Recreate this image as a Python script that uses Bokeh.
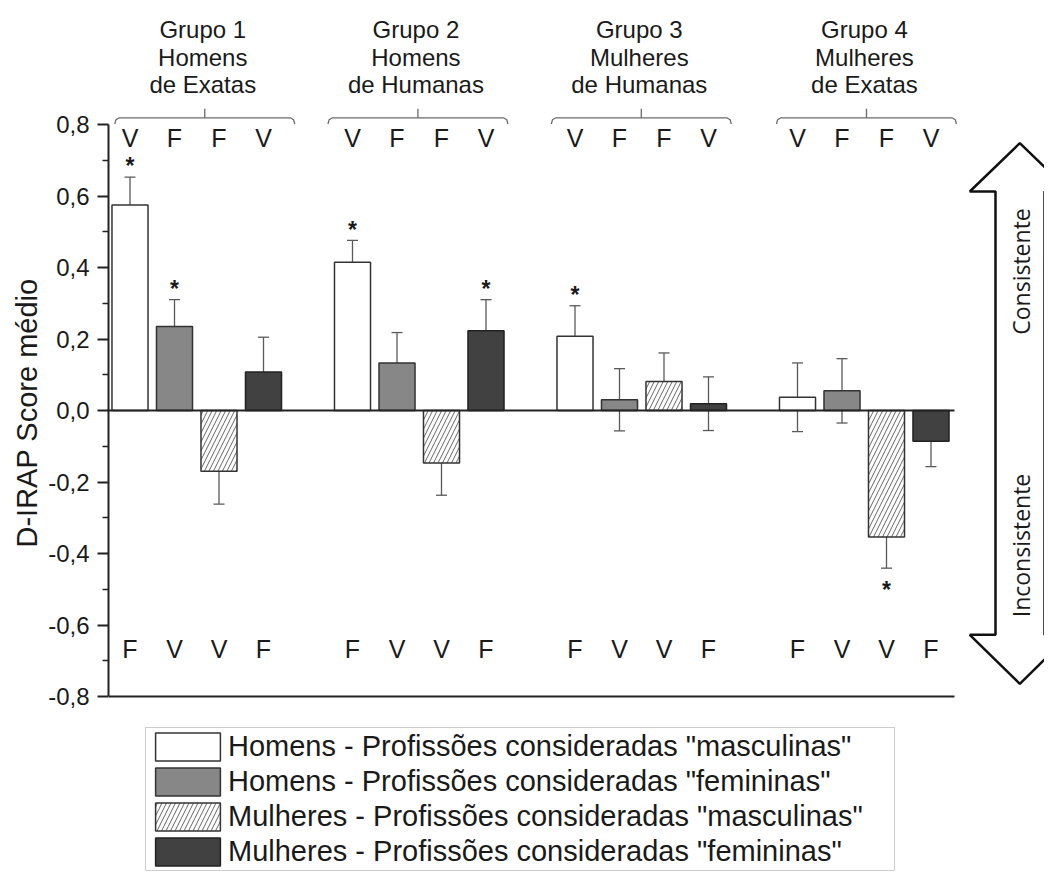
import math
from bokeh.plotting import figure
from bokeh.models import (ColumnDataSource, Range1d, FixedTicker, Whisker, TeeHead,
                          Legend, LegendItem, Title)
from bokeh.core.properties import value
from bokeh.embed import file_html
from bokeh.resources import INLINE

# ---------------- data ----------------
group_titles = [["Grupo 1", "Homens", "de Exatas"],
                ["Grupo 2", "Homens", "de Humanas"],
                ["Grupo 3", "Mulheres", "de Humanas"],
                ["Grupo 4", "Mulheres", "de Exatas"]]
series_names = ['Homens - Profissões consideradas "masculinas"',
                'Homens - Profissões consideradas "femininas"',
                'Mulheres - Profissões consideradas "masculinas"',
                'Mulheres - Profissões consideradas "femininas"']
men_masc = [0.575, 0.415, 0.208, 0.037]
men_fem = [0.235, 0.133, 0.030, 0.055]
women_masc = [-0.170, -0.147, 0.081, -0.354]
women_fem = [0.108, 0.223, 0.019, -0.086]
men_masc_err = [0.078, 0.061, 0.085, 0.096]
men_fem_err = [0.075, 0.085, 0.087, 0.090]
women_masc_err = [0.092, 0.090, 0.080, 0.087]
women_fem_err = [0.097, 0.087, 0.075, 0.071]
men_masc_sig = [True, True, True, False]
men_fem_sig = [True, False, False, False]
women_masc_sig = [False, False, False, True]
women_fem_sig = [False, True, False, False]
top_letters = ["V", "F", "F", "V"]
bottom_letters = ["F", "V", "V", "F"]
y_ticks = [-0.8, -0.6, -0.4, -0.2, 0.0, 0.2, 0.4, 0.6, 0.8]
y_tick_labels = ["-0,8", "-0,6", "-0,4", "-0,2", "0,0", "0,2", "0,4", "0,6", "0,8"]
y_title = "D-IRAP Score médio"
arrow_up_text = "Consistente"
arrow_down_text = "Inconsistente"

series_vals = [men_masc, men_fem, women_masc, women_fem]
series_errs = [men_masc_err, men_fem_err, women_masc_err, women_fem_err]
series_sig = [men_masc_sig, men_fem_sig, women_masc_sig, women_fem_sig]

# ---------------- layout helpers (picture pixel -> data) ----------------
W, H = 1044, 871
LEFT = 108
PXY = 357.5          # pixels per y unit
PXX = 44.5           # pixels per bar slot
def ry(py):
    return 0.8 - (py - 124.0) / PXY
def rx(px):
    return (px - 129.5) / PXX
def dpx(n):
    return n / PXY

FONT = value("Liberation Sans")
TXT = "#1a1a1a"

p = figure(width=W, height=H,
           x_range=Range1d(rx(LEFT), rx(W)),
           y_range=Range1d(ry(H), ry(0)),
           output_backend="svg", toolbar_location=None,
           x_axis_location=None, y_axis_location="left",
           min_border_left=LEFT, min_border_right=0, min_border_top=0, min_border_bottom=0)
p.outline_line_color = None
p.grid.visible = False
p.background_fill_color = "white"
p.border_fill_color = "white"

ax = p.yaxis[0]
ax.bounds = (y_ticks[0], y_ticks[-1])
ax.ticker = FixedTicker(ticks=y_ticks,
                        minor_ticks=[round(t + 0.1, 2) for t in y_ticks[:-1]])
ax.major_label_overrides = {t: l for t, l in zip(y_ticks, y_tick_labels)}
ax.axis_line_width = 2
ax.axis_line_color = "#222222"
ax.major_tick_line_width = 2
ax.major_tick_line_color = "#222222"
ax.minor_tick_line_width = 1.5
ax.minor_tick_line_color = "#222222"
ax.major_tick_out = 11
ax.major_tick_in = 0
ax.minor_tick_out = 6
ax.minor_tick_in = 0
ax.major_label_standoff = 8
ax.major_label_text_font = "Liberation Sans"
ax.major_label_text_font_size = "24px"
ax.major_label_text_color = TXT

# y title in the left panel, started where the reference starts it
p.add_layout(Title(text=y_title, align="left", offset=H - 547, standoff=6,
                   text_font="Liberation Sans", text_font_size="29px",
                   text_font_style="normal", text_color=TXT), "left")

# ---------------- bars ----------------
styles = [dict(fill_color="white", line_color="#333333"),
          dict(fill_color="#878787", line_color="#333333"),
          dict(fill_color="white", line_color="#333333", hatch_pattern="/",
               hatch_color="#666666", hatch_weight=1, hatch_scale=9),
          dict(fill_color="#414141", line_color="#222222")]

n_groups = len(group_titles)
renderers = []
wx, wup, wlo = [], [], []
ast_x, ast_y = [], []
for i, (vals, errs, sig) in enumerate(zip(series_vals, series_errs, series_sig)):
    xs = [g * 5 + i for g in range(n_groups)]
    src = ColumnDataSource(dict(x=xs, top=vals))
    r = p.vbar(x="x", top="top", bottom=0, width=0.81, source=src,
               line_width=1.5, **styles[i])
    renderers.append(r)
    for x, v, e, s in zip(xs, vals, errs, sig):
        wx.append(x); wup.append(v + e); wlo.append(v - e)
        if s:
            ast_x.append(x)
            if v >= 0:
                ast_y.append(v + e + dpx(16 - 5.4))
            else:
                ast_y.append(v - e - dpx(16 + 5.4))

wsrc = ColumnDataSource(dict(base=wx, upper=wup, lower=wlo))
p.add_layout(Whisker(base="base", upper="upper", lower="lower", source=wsrc,
                     line_color="#5a5a5a", line_width=1.3,
                     upper_head=TeeHead(size=11, line_color="#5a5a5a", line_width=1.3),
                     lower_head=TeeHead(size=11, line_color="#5a5a5a", line_width=1.3)))

p.text(x=ast_x, y=ast_y, text=["*"] * len(ast_x), text_font=FONT,
       text_font_size="23px", text_font_style="bold", text_color=TXT,
       text_align="center", text_baseline="middle")

# zero line and bottom line
x_axis_end = rx(954)
p.segment(x0=[p.x_range.start] * 2, x1=[x_axis_end] * 2, y0=[0, y_ticks[0]], y1=[0, y_ticks[0]],
          line_color="#222222", line_width=[1.8, 2])

# V / F letters
all_x = [g * 5 + i for g in range(n_groups) for i in range(4)]
p.text(x=all_x, y=[ry(137.3)] * len(all_x), text=top_letters * n_groups,
       text_font=FONT, text_font_size="25px", text_color=TXT,
       text_align="center", text_baseline="middle")
p.text(x=all_x, y=[ry(648.7)] * len(all_x), text=bottom_letters * n_groups,
       text_font=FONT, text_font_size="25px", text_color=TXT,
       text_align="center", text_baseline="middle")

# brackets and group titles
bracket_shift = [0.18, -0.03, -0.01, 0.05]
half = 90 / PXX
k = 1 / PXX
bxs, bys = [], []
tx, ty, tt = [], [], []
for g in range(n_groups):
    c = g * 5 + 1.5 + bracket_shift[g]
    L, R = c - half, c + half
    bxs.append([L, L + 1.2 * k, L + 4.5 * k, R - 4.5 * k, R - 1.2 * k, R])
    bys.append([ry(123.5), ry(119.2), ry(117.3), ry(117.3), ry(119.2), ry(123.5)])
    bxs.append([c, c]); bys.append([ry(117.3), ry(108.3)])
    for j, line in enumerate(group_titles[g]):
        tx.append(c - 2 * k); ty.append(ry(29 + 27.5 * j)); tt.append(line)
p.multi_line(xs=bxs, ys=bys, line_color="#6a6a6a", line_width=1.3)
p.text(x=tx, y=ty, text=tt, text_font=FONT, text_font_size="24px", text_color=TXT,
       text_align="center", text_baseline="middle")

# double arrow on the right
arrow_pts = [(1019.3, 142.7), (1069.3, 191), (1044, 191), (1044, 634.3), (1069.3, 634.3),
             (1019.3, 683.3), (969.3, 634.3), (995, 634.3), (995, 191), (969.3, 191)]
p.patch(x=[rx(a) for a, b in arrow_pts], y=[ry(b) for a, b in arrow_pts],
        fill_color="white", line_color="#111111", line_width=2.5)
p.text(x=[rx(1020), rx(1020)], y=[ry(271), ry(545)], text=[arrow_up_text, arrow_down_text],
       angle=math.pi / 2, text_font=value("Open Sans"), text_font_size="23px",
       text_color=TXT, text_align="center", text_baseline="middle")

# legend
legend = Legend(items=[LegendItem(label=n, renderers=[r]) for n, r in zip(series_names, renderers)],
                location=(145 - LEFT, 0), orientation="vertical",
                glyph_width=81, glyph_height=35, label_standoff=0, spacing=0,
                padding=1, margin=0, label_width=665, label_height=35,
                label_text_font="Liberation Sans", label_text_font_size="29px",
                label_text_color=TXT, border_line_color="#9a9a9a", border_line_width=1.5,
                background_fill_color="white", background_fill_alpha=1)
p.add_layout(legend, "center")

open("out.html", "w").write(file_html(p, INLINE))
